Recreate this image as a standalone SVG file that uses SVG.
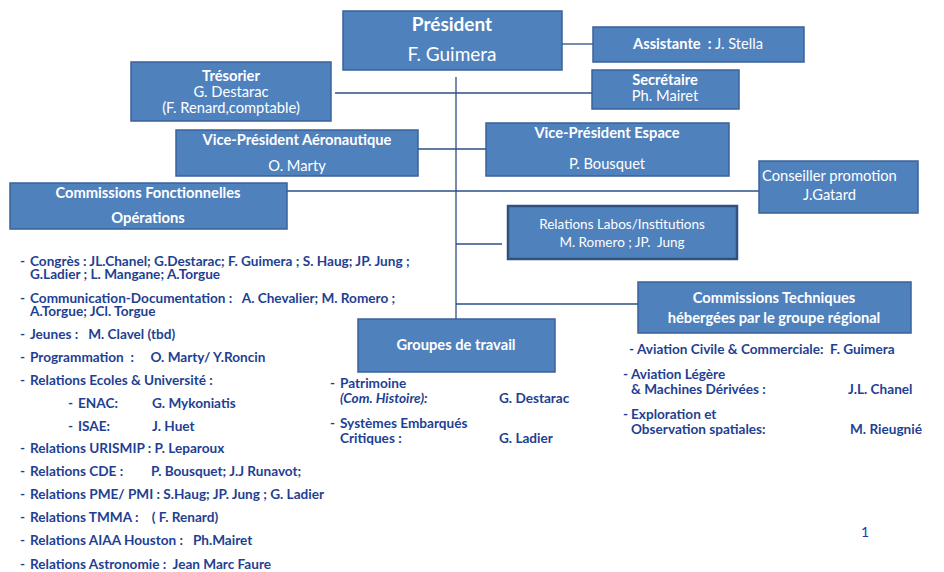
<svg xmlns="http://www.w3.org/2000/svg" width="944" height="572" viewBox="0 0 944 572">
<style>
.box{fill:#4F81BD;stroke:#3A629A;stroke-width:1.5}
.box2{fill:#4F81BD;stroke:#2F5080;stroke-width:2.5}
.w{font-family:Lato,"Liberation Sans",sans-serif;fill:#FFFFFF;font-size:14.7px}
.wb{font-weight:bold}
.c{text-anchor:middle}
.big{font-size:19px}
.sm{font-size:13.5px}
.t{font-family:Lato,"Liberation Sans",sans-serif;fill:#1F3F93;font-size:13.6px;font-weight:bold;white-space:pre}
.ln{stroke:#2B4F86;stroke-width:1.3;fill:none}
</style>
<rect width="944" height="572" fill="#FFFFFF"/>
<g id="connectors">
<line class="ln" x1="456" y1="77" x2="456" y2="319"/>
<line class="ln" x1="562" y1="44" x2="593" y2="44"/>
<line class="ln" x1="335" y1="93" x2="592" y2="93"/>
<line class="ln" x1="418" y1="149" x2="486" y2="149"/>
<line class="ln" x1="287" y1="191" x2="759" y2="191"/>
<line class="ln" x1="456" y1="244" x2="502" y2="244"/>
<line class="ln" x1="456" y1="304" x2="638" y2="304"/>
</g>
<g id="president">
<rect class="box" x="343" y="11" width="219" height="59"/>
<text class="w wb c big" x="452" y="31">Président</text>
<text class="w c big" x="452" y="61">F. Guimera</text>
</g>
<g id="assistante">
<rect class="box" x="593" y="27" width="211" height="35"/>
<text class="w" x="633" y="49" style="white-space:pre"><tspan font-weight="bold">Assistante  :</tspan> J. Stella</text>
</g>
<g id="tresorier">
<rect class="box" x="131" y="62" width="200" height="59"/>
<text class="w wb c" x="231" y="81">Trésorier</text>
<text class="w c" x="231" y="97">G. Destarac</text>
<text class="w c" x="231" y="113">(F. Renard,comptable)</text>
</g>
<g id="secretaire">
<rect class="box" x="592" y="70" width="147" height="39"/>
<text class="w wb c" x="665" y="85">Secrétaire</text>
<text class="w c" x="665" y="101">Ph. Mairet</text>
</g>
<g id="vp-aero">
<rect class="box" x="176" y="130" width="242" height="46"/>
<text class="w wb c" x="297" y="145">Vice-Président Aéronautique</text>
<text class="w c" x="297" y="171">O. Marty</text>
</g>
<g id="vp-espace">
<rect class="box" x="486" y="123" width="243" height="53"/>
<text class="w wb c" x="607" y="138">Vice-Président Espace</text>
<text class="w c" x="607" y="169">P. Bousquet</text>
</g>
<g id="commissions-fonctionnelles">
<rect class="box" x="10" y="183" width="277" height="46"/>
<text class="w wb c" x="148" y="198">Commissions Fonctionnelles</text>
<text class="w wb c" x="148" y="223">Opérations</text>
</g>
<g id="conseiller">
<rect class="box" x="759" y="161" width="159" height="52"/>
<text class="w" x="762" y="181">Conseiller promotion</text>
<text class="w" x="803" y="200">J.Gatard</text>
</g>
<g id="relations-labos">
<rect class="box2" x="508" y="206" width="229" height="53"/>
<text class="w c sm" x="622" y="229" style="white-space:pre">Relations Labos/Institutions</text>
<text class="w c sm" x="622" y="247" style="white-space:pre">M. Romero ; JP.  Jung</text>
</g>
<g id="commissions-techniques">
<rect class="box" x="638" y="282" width="273" height="51"/>
<text class="w wb c" x="774" y="303">Commissions Techniques</text>
<text class="w wb c" x="774" y="323">hébergées par le groupe régional</text>
</g>
<g id="groupes-travail">
<rect class="box" x="358" y="319" width="197" height="53"/>
<text class="w wb c" x="456" y="350">Groupes de travail</text>
</g>
<g id="liste-fonctionnelles">
<text class="t" x="20" y="266">-</text><text class="t" x="30" y="266">Congrès : JL.Chanel; G.Destarac; F. Guimera ; S. Haug; JP. Jung ;</text>
<text class="t" x="30" y="279">G.Ladier ; L. Mangane; A.Torgue</text>
<text class="t" x="20" y="303">-</text><text class="t" x="30" y="303">Communication-Documentation :   A. Chevalier; M. Romero ;</text>
<text class="t" x="30" y="316">A.Torgue; JCl. Torgue</text>
<text class="t" x="20" y="339">-</text><text class="t" x="30" y="339">Jeunes :   M. Clavel (tbd)</text>
<text class="t" x="20" y="362">-</text><text class="t" x="30" y="362">Programmation  :     O. Marty/ Y.Roncin</text>
<text class="t" x="20" y="385">-</text><text class="t" x="30" y="385">Relations Ecoles &amp; Université :</text>
<text class="t" x="68" y="408">-</text><text class="t" x="78" y="408">ENAC:</text><text class="t" x="152" y="408">G. Mykoniatis</text>
<text class="t" x="68" y="431">-</text><text class="t" x="78" y="431">ISAE:</text><text class="t" x="152" y="431">J. Huet</text>
<text class="t" x="20" y="453">-</text><text class="t" x="30" y="453">Relations URISMIP : P. Leparoux</text>
<text class="t" x="20" y="476">-</text><text class="t" x="30" y="476">Relations CDE :</text><text class="t" x="151" y="476">P. Bousquet; J.J Runavot;</text>
<text class="t" x="20" y="499">-</text><text class="t" x="30" y="499">Relations PME/ PMI : S.Haug; JP. Jung ; G. Ladier</text>
<text class="t" x="20" y="522">-</text><text class="t" x="30" y="522">Relations TMMA :    ( F. Renard)</text>
<text class="t" x="20" y="545">-</text><text class="t" x="30" y="545">Relations AIAA Houston :   Ph.Mairet</text>
<text class="t" x="20" y="569">-</text><text class="t" x="30" y="569">Relations Astronomie :  Jean Marc Faure</text>
</g>
<g id="liste-groupes">
<text class="t" x="330" y="388">-</text><text class="t" x="340" y="388">Patrimoine</text>
<text class="t" x="340" y="403" font-style="italic">(Com. Histoire):</text>
<text class="t" x="499" y="403">G. Destarac</text>
<text class="t" x="330" y="428">-</text><text class="t" x="340" y="428">Systèmes Embarqués</text>
<text class="t" x="340" y="443">Critiques :</text>
<text class="t" x="499" y="443">G. Ladier</text>
</g>
<g id="liste-techniques">
<text class="t" x="629" y="354">- Aviation Civile &amp; Commerciale:  F. Guimera</text>
<text class="t" x="623" y="379">-</text><text class="t" x="631" y="379">Aviation Légère</text>
<text class="t" x="631" y="394">&amp; Machines Dérivées :</text>
<text class="t" x="848" y="394">J.L. Chanel</text>
<text class="t" x="623" y="419">-</text><text class="t" x="631" y="419">Exploration et</text>
<text class="t" x="631" y="434">Observation spatiales:</text>
<text class="t" x="850" y="434">M. Rieugnié</text>
</g>
<text x="861" y="537" font-family="Lato,'Liberation Sans',sans-serif" font-size="14" fill="#1F3F93">1</text>
</svg>
